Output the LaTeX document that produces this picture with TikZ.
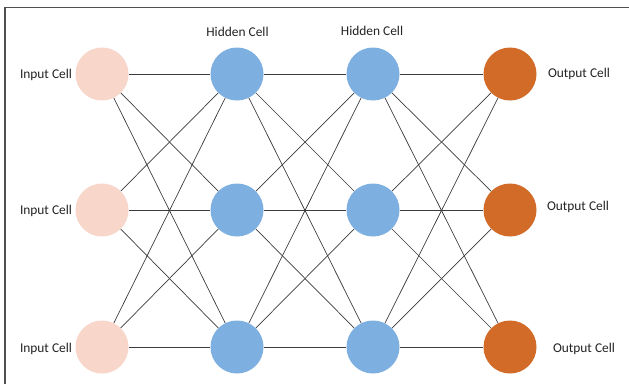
\documentclass[tikz,border=0pt]{standalone}
\usepackage{fontspec}
\setmainfont{Carlito}
\definecolor{incol}{RGB}{248,214,202}
\definecolor{hidcol}{RGB}{125,175,225}
\definecolor{outcol}{RGB}{210,106,40}
\definecolor{linecol}{RGB}{60,60,60}
\definecolor{framecol}{RGB}{80,80,80}
\definecolor{textcol}{RGB}{35,35,35}
\begin{document}
\begin{tikzpicture}[x=1pt,y=-1pt,
  cell/.style={circle,minimum size=53pt,inner sep=0pt},
  incell/.style={cell,fill=incol},
  hidcell/.style={cell,fill=hidcol},
  outcell/.style={cell,fill=outcol},
  conn/.style={draw=linecol,line width=0.7pt},
  lbl/.style={font=\fontsize{13.4}{15}\selectfont,text=textcol,inner sep=0pt}]
\useasboundingbox (0,0) rectangle (629,384);
\fill[white] (0,0) rectangle (629,384);
\draw[framecol,line width=1.3pt] (5,384) -- (5,7.5) -- (629,7.5);
\foreach \r/\y in {1/74,2/210,3/347}{
  \node[incell] (i\r) at (102,\y) {};
  \node[hidcell] (h\r) at (237,\y) {};
  \node[hidcell] (g\r) at (373,\y) {};
  \node[outcell] (o\r) at (510,\y) {};
}
\foreach \a in {1,2,3}{\foreach \b in {1,2,3}{
  \draw[conn] (i\a) -- (h\b);
  \draw[conn] (h\a) -- (g\b);
  \draw[conn] (g\a) -- (o\b);
}}
\node[lbl] (li1) at (46,75) {Input Cell};
\node[lbl] (li2) at (46,211) {Input Cell};
\node[lbl] (li3) at (46,349) {Input Cell};
\node[lbl] (lh1) at (237.5,32) {Hidden Cell};
\node[lbl] (lh2) at (372,31) {Hidden Cell};
\node[lbl] (lo1) at (579,74) {Output Cell};
\node[lbl] (lo2) at (578,207) {Output Cell};
\node[lbl] (lo3) at (584,349) {Output Cell};
\end{tikzpicture}
\end{document}
